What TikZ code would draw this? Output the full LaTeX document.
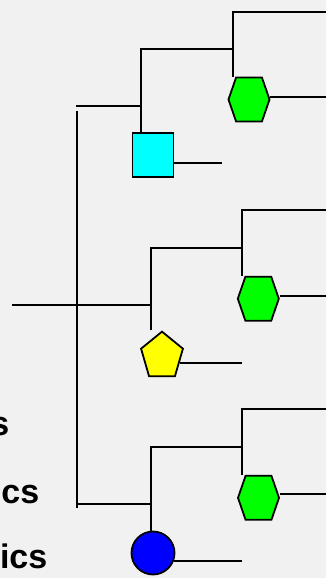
\documentclass[tikz,border=0pt]{standalone}
\usepackage{fontspec}
\setmainfont{Liberation Sans}
\usetikzlibrary{shapes.geometric, shapes.symbols, calc}
\definecolor{bgGrey}{HTML}{F1F1F1}
\definecolor{leafGreen}{HTML}{00FF00}
\definecolor{leafCyan}{HTML}{00FFFF}
\definecolor{leafYellow}{HTML}{FFFF00}
\definecolor{leafBlue}{HTML}{0000FF}
\tikzset{
  branch/.style    = {line width=2.2pt, black},
  leafshape/.style = {draw=black, line width=1.8pt, inner sep=0pt},
  hexleaf/.style   = {leafshape, signal, signal to=east and west,
                      signal pointer angle=142, minimum width=41pt,
                      minimum height=44pt, fill=leafGreen},
  boxleaf/.style   = {leafshape, rectangle, minimum width=41pt,
                      minimum height=44pt, fill=leafCyan},
  pentleaf/.style  = {leafshape, regular polygon, regular polygon sides=5,
                      minimum size=44pt, yscale=1.12, fill=leafYellow},
  dotleaf/.style   = {leafshape, circle, minimum size=43pt, fill=leafBlue},
  lbl/.style       = {font=\bfseries\fontsize{34}{40}\selectfont,
                      anchor=base east, inner sep=0pt},
}

\begin{document}
\begin{tikzpicture}[x=1pt, y=-1pt]
  \useasboundingbox (0,0) rectangle (326,578);
  \fill[bgGrey] (0,0) rectangle (326,578);

  % junctions and free ends
  \coordinate (rootL)  at (12,305);
  \coordinate (spineT) at (77,111);
  \coordinate (spineB) at (77,508);
  \coordinate (armA)   at (76,106);
  \coordinate (armC)   at (77,504);
  \coordinate (nA)     at (141,49);
  \coordinate (nA2)    at (233,12);
  \coordinate (nB)     at (151,248);
  \coordinate (nB2)    at (242,210);
  \coordinate (nC)     at (151,447);
  \coordinate (nC2)    at (242,409);
  \coordinate (tipA)   at (328,12);
  \coordinate (tipB)   at (328,210);
  \coordinate (tipC)   at (328,409);
  \coordinate (endA)   at (328,97);
  \coordinate (endB)   at (328,296);
  \coordinate (endC)   at (328,494);
  \coordinate (endSq)  at (222,163);
  \coordinate (endP)   at (242,362);
  \coordinate (endO)   at (242,561);

  % leaves
  \node[hexleaf]  (hexA) at (249,99.5) {};
  \node[boxleaf]  (sq)   at (153,155.2) {};
  \node[hexleaf]  (hexB) at (258.3,298.7) {};
  \node[pentleaf] (pent) at (162,356.3) {};
  \node[hexleaf]  (hexC) at (258.5,497.8) {};
  \node[dotleaf]  (dot)  at (153,553) {};

  % spine and arms
  \draw[branch] (spineT) -- (spineB);
  \draw[branch] (armA) -- (armA -| nA);
  \draw[branch] (rootL) -- (rootL -| nB);
  \draw[branch] (armC) -- (armC -| nC);

  % top clade
  \draw[branch] (nA |- sq.north) -- (nA) -- (nA -| nA2);
  \draw[branch] (nA2 |- hexA.north) -- (nA2) -- (tipA);
  \draw[branch] (hexA.east |- endA) -- (endA);
  \draw[branch] (sq.east |- endSq) -- (endSq);

  % middle clade
  \draw[branch] (nB |- pent.north) -- (nB) -- (nB -| nB2);
  \draw[branch] (nB2 |- hexB.north) -- (nB2) -- (tipB);
  \draw[branch] (hexB.east |- endB) -- (endB);
  \coordinate (pentR) at ($(pent.corner 5)!.5!(pent.corner 4)$);
  \draw[branch] (pentR) -- (pentR -| endP);

  % bottom clade
  \draw[branch] (nC |- dot.north) -- (nC) -- (nC -| nC2);
  \draw[branch] (nC2 |- hexC.north) -- (nC2) -- (tipC);
  \draw[branch] (hexC.east |- endC) -- (endC);
  \draw[branch] (dot.-22) -- (dot.-22 -| endO);

  % clipped labels
  \node[lbl] (lblA) at (9.5,435) {s};
  \node[lbl] (lblB) at (39.5,503) {cs};
  \node[lbl] (lblC) at (47.5,568) {ics};
\end{tikzpicture}
\end{document}
